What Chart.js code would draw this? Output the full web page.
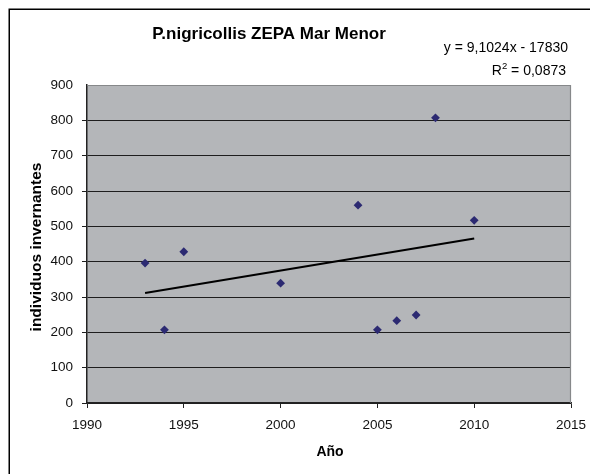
<!DOCTYPE html>
<html>
<head>
<meta charset="utf-8">
<script src="https://cdn.jsdelivr.net/npm/chart.js@4/dist/chart.umd.min.js"></script>
<style>
  html, body { margin: 0; padding: 0; background: #ffffff; }
  #wrap { width: 590px; height: 474px; position: relative; }
</style>
</head>
<body>
<div id="wrap"><canvas id="c" width="590" height="474"></canvas></div>
<script>
// Censo de invernada de Podiceps nigricollis en la ZEPA Mar Menor
const years = [1993, 1994, 1995, 2000, 2004, 2005, 2006, 2007, 2008, 2010];
const counts = [396, 207, 428, 339, 560, 207, 233, 249, 807, 517];

// Recta de regresión lineal (y = a·x + b) y su coeficiente R²
const trendSlope = 9.1024;
const trendIntercept = -17830;
const trendR2 = 0.0873;
const trendRange = [1993, 2010];

const xTicks = [1990, 1995, 2000, 2005, 2010, 2015];
const yTicks = [0, 100, 200, 300, 400, 500, 600, 700, 800, 900];

const chartTitle = 'P.nigricollis ZEPA Mar Menor';
const xTitle = 'Año';
const yTitle = 'individuos invernantes';

const FONT = '"Liberation Sans", Arial, sans-serif';

const fmt = (v, d) => v.toFixed(d).replace('.', ',');

const points = years.map((x, i) => ({ x: x, y: counts[i] }));
const trendPoints = trendRange.map(x => ({ x: x, y: trendSlope * x + trendIntercept }));

const decor = {
  id: 'decor',
  beforeDraw(chart) {
    const { ctx, chartArea: a } = chart;
    ctx.save();
    ctx.fillStyle = '#b4b6b9';
    ctx.fillRect(a.left, a.top, a.right - a.left, a.bottom - a.top);
    ctx.restore();
  },
  afterDraw(chart) {
    const { ctx, chartArea: a } = chart;
    ctx.save();
    // marco exterior del gráfico
    ctx.strokeStyle = '#000000';
    ctx.lineWidth = 1.5;
    ctx.beginPath();
    ctx.moveTo(9.25, 474);
    ctx.lineTo(9.25, 9.25);
    ctx.lineTo(590, 9.25);
    ctx.stroke();

    // borde superior y derecho del área de trazado
    ctx.strokeStyle = '#86888a';
    ctx.lineWidth = 1.2;
    ctx.beginPath();
    ctx.moveTo(a.left, a.top + 0.5);
    ctx.lineTo(a.right - 0.5, a.top + 0.5);
    ctx.lineTo(a.right - 0.5, a.bottom);
    ctx.stroke();

    // títulos
    ctx.fillStyle = '#000000';
    ctx.textAlign = 'center';
    ctx.textBaseline = 'middle';
    ctx.font = 'bold 17px ' + FONT;
    ctx.fillText(chartTitle, 269, 34);

    ctx.font = 'bold 14px ' + FONT;
    ctx.fillText(xTitle, (a.left + a.right) / 2 + 1, 452);

    ctx.save();
    ctx.font = 'bold 15.5px ' + FONT;
    ctx.translate(37, 247);
    ctx.rotate(-Math.PI / 2);
    ctx.fillText(yTitle, 0, 0);
    ctx.restore();

    // ecuación de la tendencia
    ctx.font = '14px ' + FONT;
    ctx.textAlign = 'right';
    const sign = trendIntercept < 0 ? ' - ' : ' + ';
    ctx.fillText('y = ' + fmt(trendSlope, 4) + 'x' + sign + Math.abs(trendIntercept), 568, 48);

    const rest = ' = ' + fmt(trendR2, 4);
    const restW = ctx.measureText(rest).width;
    ctx.fillText(rest, 566, 71);
    ctx.font = '9.5px ' + FONT;
    const supW = ctx.measureText('2').width;
    ctx.fillText('2', 566 - restW, 66);
    ctx.font = '14px ' + FONT;
    ctx.fillText('R', 566 - restW - supW, 71);
    ctx.restore();
  }
};

new Chart(document.getElementById('c'), {
  type: 'scatter',
  data: {
    datasets: [
      {
        label: 'individuos',
        data: points,
        pointStyle: 'rectRot',
        pointRadius: 4.4,
        pointHoverRadius: 4.4,
        backgroundColor: '#2c2a72',
        borderColor: '#2c2a72',
        borderWidth: 0,
        order: 1
      },
      {
        label: 'tendencia',
        type: 'line',
        data: trendPoints,
        borderColor: '#000000',
        borderWidth: 2,
        pointRadius: 0,
        fill: false,
        order: 2
      }
    ]
  },
  plugins: [decor],
  options: {
    responsive: false,
    animation: false,
    events: [],
    layout: { padding: { left: 0, top: 85, right: 19, bottom: 0 } },
    plugins: {
      legend: { display: false },
      title: { display: false },
      tooltip: { enabled: false }
    },
    scales: {
      x: {
        type: 'linear',
        min: xTicks[0],
        max: xTicks[xTicks.length - 1],
        afterBuildTicks: s => { s.ticks = xTicks.map(v => ({ value: v })); },
        afterFit: s => { s.height = 71; s.paddingLeft = 0; s.paddingRight = 0; },
        grid: { drawOnChartArea: false, drawTicks: true, tickLength: 5, color: '#222222', lineWidth: 1 },
        border: { display: true, color: '#222222', width: 1.5 },
        ticks: {
          color: '#111111',
          font: { family: FONT, size: 13.5 },
          padding: 9,
          maxRotation: 0,
          callback: v => String(v)
        }
      },
      y: {
        type: 'linear',
        min: yTicks[0],
        max: yTicks[yTicks.length - 1],
        afterBuildTicks: s => { s.ticks = yTicks.map(v => ({ value: v })); },
        afterFit: s => { s.width = 87; s.paddingTop = 0; s.paddingBottom = 0; },
        grid: {
          drawTicks: true,
          tickLength: 5,
          color: ctx => (ctx.tick && ctx.tick.value === yTicks[yTicks.length - 1]) ? 'rgba(0,0,0,0)' : '#1e1e1e',
          lineWidth: 1
        },
        border: { display: true, color: '#222222', width: 1.5 },
        ticks: {
          color: '#111111',
          font: { family: FONT, size: 13.5 },
          padding: 9,
          callback: v => String(v)
        }
      }
    }
  }
});
</script>
</body>
</html>
